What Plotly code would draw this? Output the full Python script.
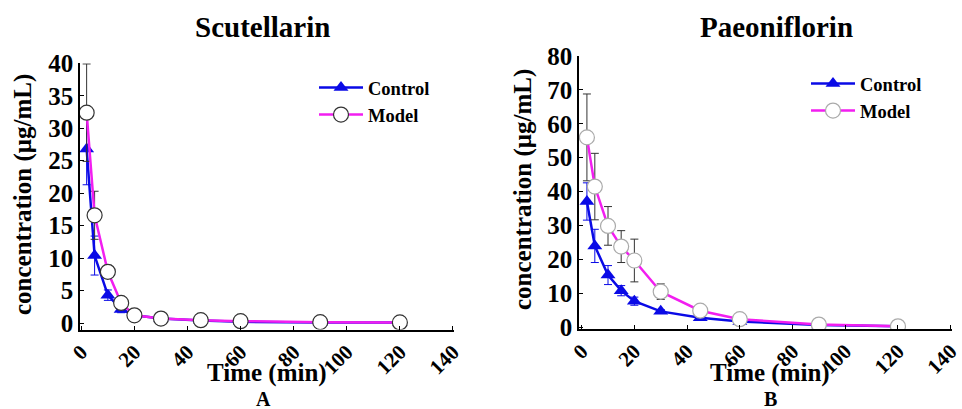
import plotly.graph_objects as go

# ---- data ----
time_min = [2, 5, 10, 15, 20, 30, 45, 60, 90, 120]

scu_control = [26.8, 10.4, 4.3, 2.1, 1.2, 0.7, 0.4, 0.2, 0.1, 0.1]
scu_control_sd = [5.5, 3.0, 0.8, 0.5, 0.3, 0.2, 0.1, 0.1, 0.05, 0.05]
scu_model = [32.4, 16.6, 7.9, 3.1, 1.2, 0.7, 0.45, 0.3, 0.15, 0.1]
scu_model_sd = [7.5, 3.7, 1.0, 0.6, 0.3, 0.2, 0.1, 0.1, 0.05, 0.05]

pae_control = [37.1, 24.0, 15.4, 10.8, 7.7, 4.7, 2.8, 1.7, 0.7, 0.3]
pae_control_sd = [5.5, 4.9, 2.8, 1.5, 1.2, 0.5, 0.4, 0.3, 0.2, 0.1]
pae_model = [56.0, 41.5, 29.9, 23.8, 19.7, 10.5, 4.9, 2.4, 0.8, 0.3]
pae_model_sd = [12.8, 9.8, 5.7, 4.7, 6.3, 2.3, 0.8, 0.5, 0.3, 0.1]

x_ticks = [0, 20, 40, 60, 80, 100, 120, 140]
scu_yticks = [0, 5, 10, 15, 20, 25, 30, 35, 40]
pae_yticks = [0, 10, 20, 30, 40, 50, 60, 70, 80]

# ---- styles ----
FONT = "Liberation Serif"
BLUE = "#0a0ae6"
MAGENTA = "#f21ef0"
W, H = 962, 409

fig = go.Figure()

def add_pair(xa, ya, ctrl, ctrl_sd, mod, mod_sd, legend, circle_line):
    fig.add_trace(go.Scatter(
        x=time_min, y=ctrl, name="Control", mode="lines+markers",
        xaxis=xa, yaxis=ya, legend=legend,
        line=dict(color=BLUE, width=2.5),
        marker=dict(symbol="triangle-up", size=13, color=BLUE),
        error_y=dict(type="data", array=ctrl_sd, visible=True, color=BLUE,
                     thickness=1, width=4),
    ))
    fig.add_trace(go.Scatter(
        x=time_min, y=mod, name="Model", mode="lines+markers",
        xaxis=xa, yaxis=ya, legend=legend,
        line=dict(color=MAGENTA, width=2.5),
        marker=dict(symbol="circle", size=15, color="white",
                    line=dict(color=circle_line, width=1.2)),
        error_y=dict(type="data", array=mod_sd, visible=True, color="#333333",
                     thickness=1, width=4),
    ))

add_pair("x", "y", scu_control, scu_control_sd, scu_model, scu_model_sd, "legend", "#333333")
add_pair("x2", "y2", pae_control, pae_control_sd, pae_model, pae_model_sd, "legend2", "#aaaaaa")

def px_x(p):
    return p / W

def px_y(p):
    return 1 - p / H

axis_common = dict(
    showline=True, linecolor="black", linewidth=1.5,
    showgrid=False, zeroline=False, automargin=False,
    ticks="inside", ticklen=4, tickcolor="black",
    ticklabeloverflow="allow",
)
yfont = dict(family=FONT, size=25, color="black", weight="bold")
xfont = dict(family=FONT, size=21, color="black", weight="bold")
lfont = dict(family=FONT, size=18.5, color="black", weight="bold")

fig.update_layout(
    width=W, height=H,
    margin=dict(l=0, r=0, t=0, b=0, autoexpand=False),
    paper_bgcolor="white", plot_bgcolor="white",
    font=dict(family=FONT, color="black", weight="bold"),
    xaxis=dict(domain=[px_x(80), px_x(454.3)], range=[-0.5, 140.5], anchor="y",
               tickvals=x_ticks, tickangle=-45, tickfont=xfont, **axis_common),
    yaxis=dict(domain=[px_y(329.6), px_y(63.3)], range=[-1, 40], anchor="x",
               tickvals=scu_yticks, tickfont=yfont, **axis_common),
    xaxis2=dict(domain=[px_x(579), px_x(952)], range=[-1, 140.5], anchor="y2",
                tickvals=x_ticks, tickangle=-45, tickfont=xfont, **axis_common),
    yaxis2=dict(domain=[px_y(329), px_y(56)], range=[-0.5, 80], anchor="x2",
                tickvals=pae_yticks, tickfont=yfont, **axis_common),
    legend=dict(x=px_x(314), y=px_y(69), xanchor="left", yanchor="top",
                bgcolor="rgba(0,0,0,0)", itemwidth=44, font=lfont),
    legend2=dict(x=px_x(806), y=px_y(65), xanchor="left", yanchor="top",
                 bgcolor="rgba(0,0,0,0)", itemwidth=44, font=lfont),
)

def ann(text, x, y, size, angle=0):
    fig.add_annotation(text=text, x=px_x(x), y=px_y(y), xref="paper", yref="paper",
                       showarrow=False, textangle=angle, xanchor="center", yanchor="middle",
                       font=dict(family=FONT, size=size, color="black", weight="bold"))

ann("Scutellarin", 262, 27, 29)
ann("Paeoniflorin", 776, 27, 29)
ann("concentration (μg/mL)", 23, 195, 25, -90)
ann("concentration (μg/mL)", 523, 190, 25, -90)
ann("Time (min)", 267, 373, 25)
ann("Time (min)", 770, 373, 25)
ann("A", 263, 399, 20)
ann("B", 770, 399, 20)

fig.write_html("out.html",
               config={"displayModeBar": False},
               post_script="document.body.style.margin='0';document.body.style.overflow='hidden';")
